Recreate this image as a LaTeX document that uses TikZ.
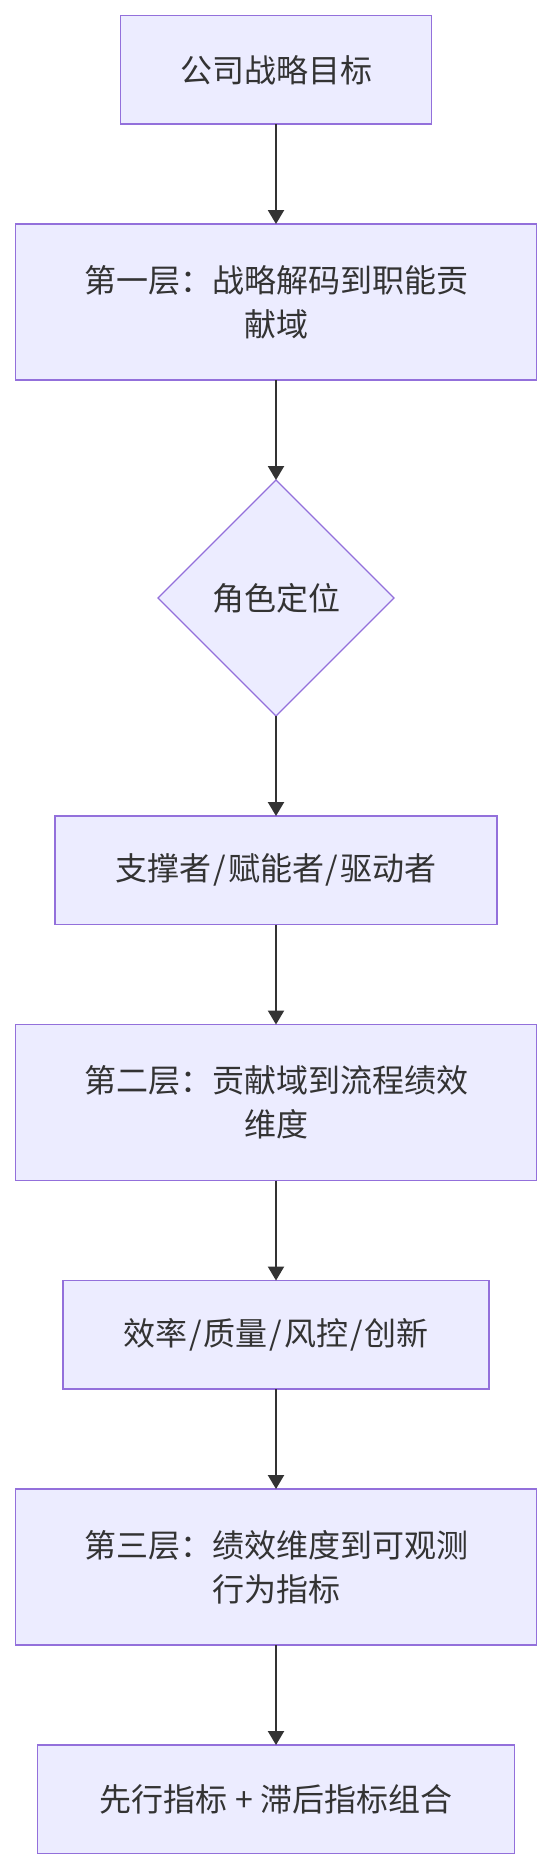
\documentclass[tikz,border=0pt]{standalone}
\usepackage{fontspec}
\newfontfamily\cjk{Noto Sans CJK SC}
\usetikzlibrary{positioning,shapes.geometric,arrows.meta}
\definecolor{mmfill}{HTML}{ECECFF}
\definecolor{mmborder}{HTML}{9370DB}
\definecolor{mmtext}{HTML}{333333}
\newcommand{\divider}{\hspace{2pt}/\hspace{2pt}}
\begin{document}
\begin{tikzpicture}[
    x=1pt, y=1pt,
    node distance=100pt,
    box/.style={rectangle, draw=mmborder, fill=mmfill, line width=1.3pt, text=mmtext, align=center, inner sep=0pt, outer sep=0pt, minimum height=108.5pt, font=\cjk\fontsize{32}{44}\selectfont},
    tallbox/.style={box, minimum height=156pt},
    choice/.style={diamond, draw=mmborder, fill=mmfill, line width=1.3pt, text=mmtext, inner sep=0pt, outer sep=0pt, minimum width=236pt, minimum height=236pt, font=\cjk\fontsize{32}{44}\selectfont},
    arrow/.style={-{Triangle[width=16pt,length=14pt]}, line width=2pt, draw=mmtext}
]
    \useasboundingbox (0,0) rectangle (552,-1868);

    \node[box, minimum width=311pt] (goal) at (276,-69.8) {公司战略目标};
    \node[tallbox, minimum width=521pt, below=of goal] (layer1) {第一层：战略解码到职能贡\\献域};
    \node[choice, below=of layer1] (role) {角色定位};
    \node[box, minimum width=442pt, below=of role] (roles) {支撑者\divider 赋能者\divider 驱动者};
    \node[tallbox, minimum width=521pt, below=of roles] (layer2) {第二层：贡献域到流程绩效\\维度};
    \node[box, minimum width=426pt, below=of layer2] (dims) {效率\divider 质量\divider 风控\divider 创新};
    \node[tallbox, minimum width=521pt, below=of dims] (layer3) {第三层：绩效维度到可观测\\行为指标};
    \node[box, minimum width=477pt, below=of layer3] (mix) {先行指标 + 滞后指标组合};

    \draw[arrow] (goal) -- (layer1);
    \draw[arrow] (layer1) -- (role);
    \draw[arrow] (role) -- (roles);
    \draw[arrow] (roles) -- (layer2);
    \draw[arrow] (layer2) -- (dims);
    \draw[arrow] (dims) -- (layer3);
    \draw[arrow] (layer3) -- (mix);
\end{tikzpicture}
\end{document}
